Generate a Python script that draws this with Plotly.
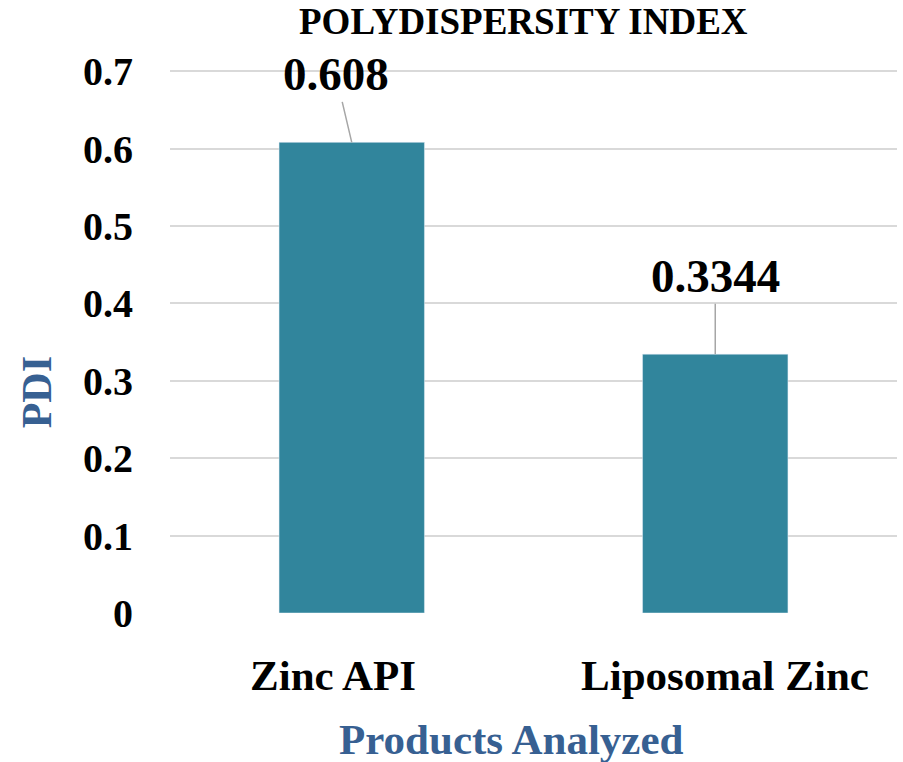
import plotly.graph_objects as go

categories = ["Zinc API", "Liposomal Zinc"]
pdi_values = [0.608, 0.3344]
value_labels = ["0.608", "0.3344"]
y_tick_values = [0, 0.1, 0.2, 0.3, 0.4, 0.5, 0.6, 0.7]
y_tick_labels = ["0", "0.1", "0.2", "0.3", "0.4", "0.5", "0.6", "0.7"]
label_offsets_x = [-16, 0]
label_offsets_y = [-68, -78]
category_label_shift = [-19, 10]

FONT = "Liberation Serif, Times New Roman, serif"
BAR_COLOR = "#31859C"
TITLE_BLUE = "#376092"

fig = go.Figure()
fig.add_trace(go.Bar(
    x=categories, y=pdi_values, marker_color=BAR_COLOR, width=0.4,
    hoverinfo="skip",
))

for cat, val, lab, ax, ay in zip(categories, pdi_values, value_labels, label_offsets_x, label_offsets_y):
    fig.add_annotation(
        x=cat, y=val, xref="x", yref="y", text=f"<b>{lab}</b>",
        showarrow=True, arrowhead=0, arrowwidth=1.5, arrowcolor="#A6A6A6",
        ax=ax, ay=ay, standoff=0, startstandoff=0,
        font=dict(family=FONT, size=47, color="black"),
    )

# category labels (x-axis tick labels)
for cat, shift in zip(categories, category_label_shift):
    fig.add_annotation(
        x=cat, xref="x", yref="paper", y=-(676 - 613.5) / 542.5,
        text=f"<b>{cat}</b>", showarrow=False, xshift=shift,
        xanchor="center", yanchor="middle",
        font=dict(family=FONT, size=43, color="black"),
    )

fig.add_annotation(
    text="<b>POLYDISPERSITY INDEX</b>", xref="paper", yref="paper",
    x=(523 - 170) / 727, y=1 + (71 - 23) / 542.5, showarrow=False,
    xanchor="center", yanchor="middle",
    font=dict(family=FONT, size=37, color="black"),
)
fig.add_annotation(
    text="<b>PDI</b>", xref="paper", yref="paper", textangle=-90,
    x=(37 - 170) / 727, y=(613.5 - 393) / 542.5, showarrow=False,
    xanchor="center", yanchor="middle",
    font=dict(family=FONT, size=42, color=TITLE_BLUE),
)
fig.add_annotation(
    text="<b>Products Analyzed</b>", xref="paper", yref="paper",
    x=(511 - 170) / 727, y=-(740 - 613.5) / 542.5, showarrow=False,
    xanchor="center", yanchor="middle",
    font=dict(family=FONT, size=43, color=TITLE_BLUE),
)

fig.update_layout(
    width=903, height=762,
    margin=dict(l=170, r=6, t=70, b=148.5, autoexpand=False),
    plot_bgcolor="white", paper_bgcolor="white",
    showlegend=False,
    font=dict(family=FONT, color="black"),
)
fig.update_yaxes(
    range=[0, 0.7015], tickvals=y_tick_values,
    ticktext=[f"<b>{t}</b>" for t in y_tick_labels],
    showgrid=True, gridcolor="#D9D9D9", gridwidth=1.5,
    zeroline=False, showline=False, automargin=False,
    tickfont=dict(family=FONT, size=40, color="black"),
    ticklabelstandoff=36,
)
fig.update_xaxes(
    showgrid=False, showline=False, zeroline=False, automargin=False,
    showticklabels=False,
)

fig.write_html(
    "out.html",
    config={"displayModeBar": False},
    post_script="document.body.style.margin='0px';document.body.style.overflow='hidden';",
)
